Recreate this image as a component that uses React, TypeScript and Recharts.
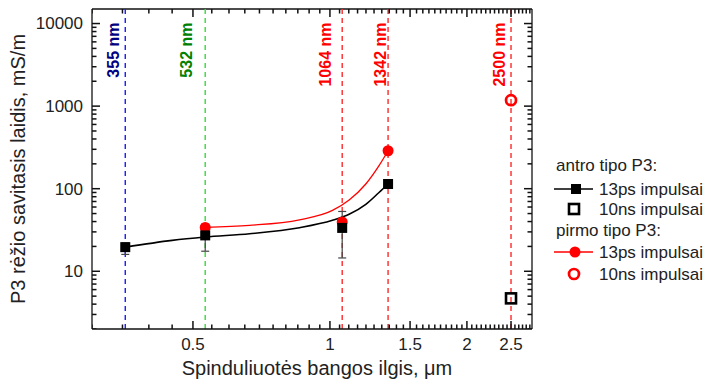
import { ComposedChart, Line, Scatter, XAxis, YAxis, ReferenceLine, ErrorBar } from 'recharts'

// lazerių bangos ilgiai (μm) ir užrašai
const laserWavelengths = [0.355, 0.532, 1.064, 1.342, 2.5]
const laserLabels = ['355 nm', '532 nm', '1064 nm', '1342 nm', '2500 nm']

// antro tipo P3, 13ps impulsai
const secondPsX = [0.355, 0.532, 1.064, 1.342]
const secondPsY = [19.6, 27.2, 33.5, 114]

// paklaidos (tik taškams, kurie jas turi)
const errX = [0.355, 0.532, 1.064]
const errY = [19.6, 27.2, 33.5]
const errLow = [3.6, 9.7, 19]
const errHigh = [2.4, 10, 19.5]

// antro tipo P3, kreivė
const secondFitX = [0.355, 0.45, 0.532, 0.666, 0.857, 1.013, 1.102, 1.199, 1.282, 1.342]
const secondFitY = [19.6, 23.7, 26, 28.5, 33.7, 41.4, 49, 64.6, 90, 114]

// pirmo tipo P3, 13ps impulsai
const firstPsX = [0.532, 1.064, 1.342]
const firstPsY = [34, 39.5, 288]

// pirmo tipo P3, kreivė
const firstFitX = [0.532, 0.666, 0.857, 1.013, 1.102, 1.199, 1.282, 1.342]
const firstFitY = [34, 36, 42, 54.6, 73, 114, 190, 288]

// 10ns impulsai
const nsX = [2.5]
const secondNsY = [4.7]
const firstNsY = [1180]

const xMajor = [0.5, 1, 1.5, 2, 2.5]
const yMajor = [10, 100, 1000, 10000]
const xDomain = [0.3, 2.78]
const yDomain = [2, 15000]

const xTicks: number[] = []
for (let i = 6; i <= 55; i++) xTicks.push(Math.round(i * 5) / 100)
const yTicks: number[] = []
for (const d of [1, 10, 100, 1000]) for (let m = 2; m <= 10; m++) yTicks.push(m * d)

const zip = (xs: number[], ys: number[]) => xs.map((x, i) => ({ x, y: ys[i] }))
const secondPs = zip(secondPsX, secondPsY)
const errPts = errX.map((x, i) => ({ x, y: errY[i], err: [errLow[i], errHigh[i]] }))
const secondFit = zip(secondFitX, secondFitY)
const firstPs = zip(firstPsX, firstPsY)
const firstFit = zip(firstFitX, firstFitY)
const secondNs = zip(nsX, secondNsY)
const firstNs = zip(nsX, firstNsY)

// ašių žymos, piešiamos per bibliotekos skales
const xTickMarks = xTicks.map(x => ({ x, y: yDomain[0] }))
const yTickMarks = yTicks.map(y => ({ x: xDomain[0], y }))

const lineColors = ['#1a1aff', '#33dd33', '#ff2a2a', '#ff2a2a', '#ff2a2a']
const labelColors = ['#000080', '#008000', '#ff0000', '#ff0000', '#ff0000']
const labelDx = [-6, -13, -11, -2, -6]

const W = 706
const H = 380
const margin = { top: 9, right: 174, bottom: 0, left: 0 }
const plotTop = margin.top
const plotRight = W - margin.right

const font = '"Liberation Sans", Arial, sans-serif'
const axisColor = '#111'
const isMajor = (v: number, list: number[]) => list.some(m => Math.abs(m - v) < 1e-6)

const renderXTick = (props: any) => {
  const x = Number(props.x)
  const y = Number(props.y)
  if (!isMajor(props.payload.value, xMajor)) return <g />
  return (
    <text x={x} y={y + 21} textAnchor="middle" fontSize={17} fontFamily={font} fill="#222">{props.payload.value}</text>
  )
}

const renderYTick = (props: any) => {
  const x = Number(props.x)
  const y = Number(props.y)
  if (!isMajor(props.payload.value, yMajor)) return <g />
  return (
    <text x={x - 9} y={y} dy="0.35em" textAnchor="end" fontSize={17} fontFamily={font} fill="#222">{props.payload.value}</text>
  )
}

// apačioje ir veidrodiškai viršuje
const xTickShape = (p: any) => {
  const len = isMajor(p.payload.x, xMajor) ? 8 : 4.5
  return (
    <g>
      <line x1={p.cx} x2={p.cx} y1={p.cy} y2={p.cy - len} stroke={axisColor} strokeWidth={1.5} />
      <line x1={p.cx} x2={p.cx} y1={plotTop} y2={plotTop + len} stroke={axisColor} strokeWidth={1.5} />
    </g>
  )
}

// kairėje ir veidrodiškai dešinėje
const yTickShape = (p: any) => {
  const len = isMajor(p.payload.y, yMajor) ? 8 : 4.5
  return (
    <g>
      <line x1={p.cx} x2={p.cx + len} y1={p.cy} y2={p.cy} stroke={axisColor} strokeWidth={1.5} />
      <line x1={plotRight} x2={plotRight - len} y1={p.cy} y2={p.cy} stroke={axisColor} strokeWidth={1.5} />
    </g>
  )
}

const VLabel = (props: any) => {
  const { viewBox, text, color, dx } = props
  const x = viewBox.x + dx
  const y = viewBox.y + 13.5
  return (
    <text x={x} y={y} transform={`rotate(-90 ${x} ${y})`} textAnchor="end" fontSize={16} fontWeight="bold" fontFamily={font} fill={color}>{text}</text>
  )
}

const YTitle = (props: any) => {
  const { viewBox } = props
  const x = viewBox.x + 25
  const y = viewBox.y + viewBox.height / 2
  return (
    <text x={x} y={y} transform={`rotate(-90 ${x} ${y})`} textAnchor="middle" fontSize={20} fontFamily={font} fill="#222">P3 rėžio savitasis laidis, mS/m</text>
  )
}

const XTitle = (props: any) => {
  const { viewBox } = props
  return (
    <text x={viewBox.x + viewBox.width / 2 + 5} y={viewBox.y + 46} textAnchor="middle" fontSize={20} fontFamily={font} fill="#222">Spinduliuotės bangos ilgis, μm</text>
  )
}

const blackSquare = (p: any) => <rect x={p.cx - 5} y={p.cy - 5} width={10} height={10} fill="#000" />
const redDot = (p: any) => <circle cx={p.cx} cy={p.cy} r={5.5} fill="#ff0000" />
const openSquare = (p: any) => <rect x={p.cx - 5} y={p.cy - 5} width={10} height={10} fill="none" stroke="#000" strokeWidth={2.6} />
const openCircle = (p: any) => <circle cx={p.cx} cy={p.cy} r={5} fill="none" stroke="#ff0000" strokeWidth={2.7} />
const noShape = () => <g />

const Legend = () => (
  <svg width={W} height={H} style={{ position: 'absolute', left: 0, top: 0, pointerEvents: 'none' }}>
    <g fontFamily={font} fontSize={17} fill="#222">
      <text x={556} y={171}>antro tipo P3:</text>
      <line x1={554} x2={593} y1={189} y2={189} stroke="#000" strokeWidth={1.5} />
      <rect x={571} y={184} width={10} height={10} fill="#000" />
      <text x={599} y={195}>13ps impulsai</text>
      <rect x={569} y={204} width={10} height={10} fill="none" stroke="#000" strokeWidth={2.6} />
      <text x={599} y={215}>10ns impulsai</text>
      <text x={556} y={236}>pirmo tipo P3:</text>
      <line x1={554} x2={593} y1={252} y2={252} stroke="#ff0000" strokeWidth={1.3} />
      <circle cx={575} cy={252} r={5.5} fill="#ff0000" />
      <text x={599} y={258}>13ps impulsai</text>
      <circle cx={574} cy={274} r={5} fill="none" stroke="#ff0000" strokeWidth={2.7} />
      <text x={599} y={280}>10ns impulsai</text>
    </g>
  </svg>
)

export default function App() {
  return (
    <div style={{ position: 'absolute', left: 0, top: 0, width: W, height: H, background: '#fff' }}>
      <ComposedChart width={W} height={H} margin={margin}>
        <XAxis dataKey="x" type="number" scale="log" domain={xDomain} allowDataOverflow ticks={xTicks}
          interval={0} tickSize={0} tickMargin={0} tickLine={false} height={51}
          axisLine={{ stroke: axisColor, strokeWidth: 1.3 }} tick={renderXTick} label={<XTitle />} />
        <YAxis type="number" scale="log" domain={yDomain} allowDataOverflow ticks={yTicks} interval={0}
          tickSize={0} tickMargin={0} tickLine={false} width={92}
          axisLine={{ stroke: axisColor, strokeWidth: 1.3 }} tick={renderYTick} label={<YTitle />} />
        <ReferenceLine y={yDomain[1]} stroke={axisColor} strokeWidth={1.3} />
        <ReferenceLine x={xDomain[1]} stroke={axisColor} strokeWidth={1.3} />
        {laserWavelengths.map((w, i) => (
          <ReferenceLine key={w} x={w} stroke={lineColors[i]} strokeWidth={1.4} strokeDasharray="5 4"
            label={<VLabel text={laserLabels[i]} color={labelColors[i]} dx={labelDx[i]} />} />
        ))}
        <Scatter data={xTickMarks} dataKey="y" shape={xTickShape} isAnimationActive={false} />
        <Scatter data={yTickMarks} dataKey="y" shape={yTickShape} isAnimationActive={false} />
        <Line data={secondFit} dataKey="y" type="monotone" stroke="#000" strokeWidth={1.6} dot={false} isAnimationActive={false} />
        <Line data={firstFit} dataKey="y" type="monotone" stroke="#ff0000" strokeWidth={1.3} dot={false} isAnimationActive={false} />
        <Scatter data={firstPs} dataKey="y" shape={redDot} isAnimationActive={false} />
        <Scatter data={secondPs} dataKey="y" shape={blackSquare} isAnimationActive={false} />
        <Scatter data={errPts} dataKey="y" shape={noShape} isAnimationActive={false}>
          <ErrorBar dataKey="err" direction="y" width={4} stroke="#444" strokeWidth={1.2} />
        </Scatter>
        <Scatter data={secondNs} dataKey="y" shape={openSquare} isAnimationActive={false} />
        <Scatter data={firstNs} dataKey="y" shape={openCircle} isAnimationActive={false} />
      </ComposedChart>
      <Legend />
    </div>
  )
}
